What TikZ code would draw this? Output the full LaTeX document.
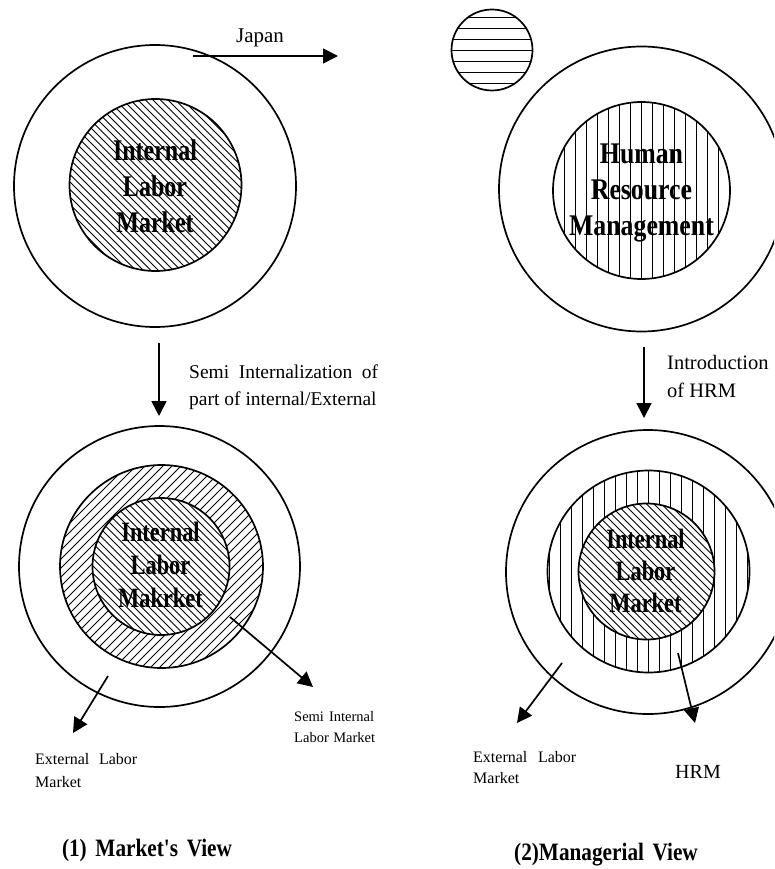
\documentclass[tikz,border=0pt]{standalone}
\usepackage{fontspec}
\setmainfont{Liberation Serif}
\usepackage{graphicx}
\usetikzlibrary{arrows.meta}
\tikzset{
  ring/.style={circle, draw, line width=1.7pt, minimum size=#1, inner sep=0pt, fill=white},
  hatchNW/.style={path picture={\foreach \k in {-45,...,45}
      \draw[line width=0.75pt, shift={(path picture bounding box.center)}] (\k*#1-220,-220) -- ++(440,440);}},
  hatchNE/.style={path picture={\foreach \k in {-45,...,45}
      \draw[line width=0.75pt, shift={(path picture bounding box.center)}] (\k*#1-220,220) -- ++(440,-440);}},
  hatchV/.style={path picture={\foreach \k in {-12,...,12}
      \draw[line width=0.75pt, shift={(path picture bounding box.center)}] (\k*#1,-150) -- ++(0,300);}},
  hatchH/.style={path picture={\foreach \k in {-6,...,6}
      \draw[line width=0.75pt, shift={(path picture bounding box.center)}] (-60,\k*#1) -- ++(120,0);}},
  arr/.style={line width=1.7pt, -{Triangle[length=15pt,width=15pt]}},
  bigl/.style={inner sep=0pt, font=\fontsize{30}{36}\selectfont\bfseries},
  midl/.style={inner sep=0pt, font=\fontsize{28}{33}\selectfont\bfseries},
  txt/.style={inner sep=0pt, align=left},
}
\begin{document}
\begin{tikzpicture}[x=1pt,y=-1pt]
\useasboundingbox (0,0) rectangle (774,869);
\clip (0,0) rectangle (774,869);
% ---------- top left
\node[ring=282] (tlo) at (155,186) {};
\node[ring=172, hatchNW=7.5] (tli) at (155.5,185) {};
\node[bigl] (tlt) at (155,189) {\scalebox{0.8}[1]{\begin{tabular}{@{}c@{}}Internal\\Labor\\Market\end{tabular}}};
% ---------- top right
\node[ring=81, hatchH=11] (trs) at (492,50) {};
\node[ring=285] (tro) at (641.5,189) {};
\node[ring=177, hatchV=11] (tri) at (641.5,190.5) {};
\node[bigl] (trt) at (641.5,192.5) {\scalebox{0.86}[1]{\begin{tabular}{@{}c@{}}Human\\Resource\\Management\end{tabular}}};
% ---------- bottom left
\node[ring=281] (blo) at (159.5,566.5) {};
\node[ring=203, hatchNE=9] (blm) at (161.5,566.5) {};
\node[ring=137, hatchNW=7.5] (bli) at (161,566.5) {};
\node[midl] (blt) at (160.5,568) {\scalebox{0.8}[1]{\begin{tabular}{@{}c@{}}Internal\\Labor\\Makrket\end{tabular}}};
% ---------- bottom right
\node[ring=284] (bro) at (648,572) {};
\node[ring=202, hatchV=11] (brm) at (648.5,571.5) {};
\node[ring=136, hatchNW=7.5] (bri) at (646.5,571.5) {};
\node[midl] (brt) at (645.5,574) {\scalebox{0.8}[1]{\fontsize{28}{32}\selectfont\begin{tabular}{@{}c@{}}Internal\\Labor\\Market\end{tabular}}};
% ---------- arrows
\coordinate (jpA) at (193,56);
\coordinate (jpB) at (338,56);
\draw[arr] (jpA) -- (jpB);
\node[inner sep=0pt, font=\fontsize{21}{25}\selectfont] (jp) at (260,38) {Japan};

\coordinate (v1a) at (159,343);
\coordinate (v1b) at (159,416);
\draw[arr] (v1a) -- (v1b);
\node[txt, anchor=west, font=\fontsize{19.5}{27}\selectfont] (semi) at (189,386.5)
  {\begin{tabular}{@{}l@{}}\makebox[189pt][s]{Semi Internalization of}\\part of internal/External\end{tabular}};

\coordinate (v2a) at (644,347);
\coordinate (v2b) at (644,418);
\draw[arr] (v2a) -- (v2b);
\node[txt, anchor=west, font=\fontsize{20.5}{28}\selectfont] (intro) at (667,378)
  {\begin{tabular}{@{}l@{}}Introduction\\of HRM\end{tabular}};

\coordinate (e1a) at (108,676);
\coordinate (e1b) at (73,733);
\draw[arr] (e1a) -- (e1b);
\coordinate (s1a) at (230,617);
\coordinate (s1b) at (313,687);
\draw[arr] (s1a) -- (s1b);
\coordinate (e2a) at (562,663);
\coordinate (e2b) at (517,723);
\draw[arr] (e2a) -- (e2b);
\coordinate (h2a) at (678,653);
\coordinate (h2b) at (695,723);
\draw[arr] (h2a) -- (h2b);

\node[txt, anchor=west, font=\fontsize{16}{23}\selectfont] (ext1) at (35,771.5)
  {\begin{tabular}{@{}l@{}}\makebox[102pt][s]{External Labor}\\Market\end{tabular}};
\node[txt, anchor=west, font=\fontsize{14.5}{21}\selectfont] (sil) at (294,727.5)
  {\begin{tabular}{@{}l@{}}\makebox[80pt][s]{Semi Internal}\\\makebox[81pt][s]{Labor Market}\end{tabular}};
\node[txt, anchor=west, font=\fontsize{16}{21}\selectfont] (ext2) at (473,768.5)
  {\begin{tabular}{@{}l@{}}\makebox[103pt][s]{External Labor}\\Market\end{tabular}};
\node[inner sep=0pt, font=\fontsize{20}{24}\selectfont] (hrm) at (698,772) {HRM};

% ---------- captions
\node[inner sep=0pt, font=\fontsize{25}{30}\selectfont\bfseries] (cap1) at (147,850)
  {\scalebox{0.85}[1]{\makebox[200pt][s]{(1) Market\textquotesingle s View}}};
\node[inner sep=0pt, font=\fontsize{25}{30}\selectfont\bfseries] (cap2) at (606,855)
  {\scalebox{0.85}[1]{\makebox[216pt][s]{(2)Managerial View}}};
\end{tikzpicture}
\end{document}
